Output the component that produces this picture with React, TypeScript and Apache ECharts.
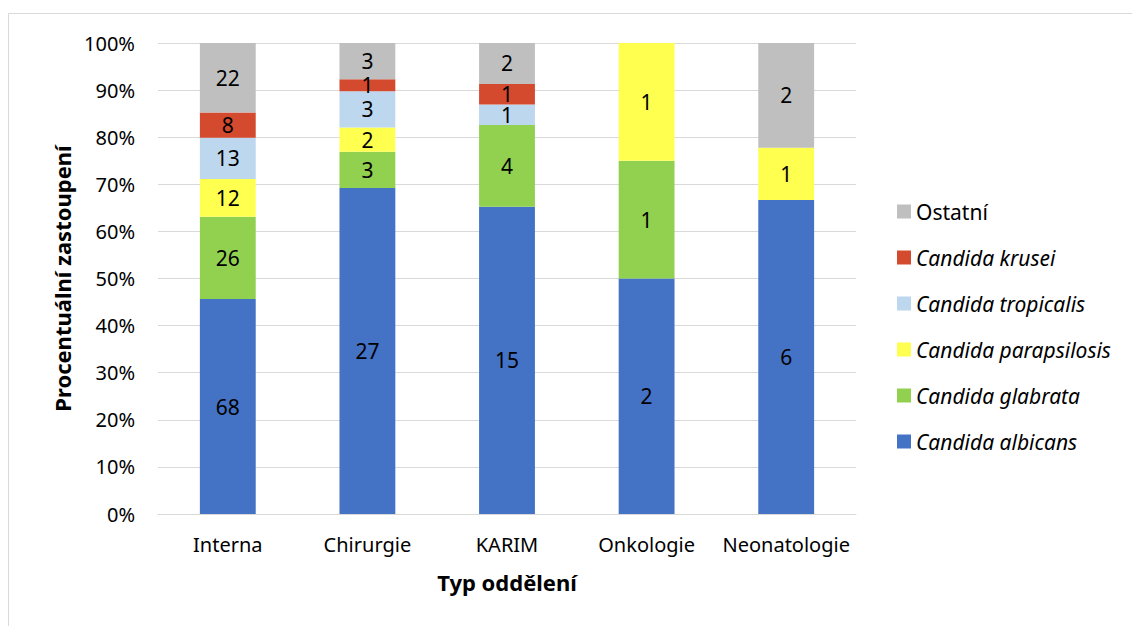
import React, { useEffect, useRef } from "react";
import * as echarts from "echarts";

// Hospital departments
const departments = ["Interna", "Chirurgie", "KARIM", "Onkologie", "Neonatologie"];

// Isolate counts per department
const albicans = [68, 27, 15, 2, 6];
const glabrata = [26, 3, 4, 1, 0];
const parapsilosis = [12, 2, 0, 1, 1];
const tropicalis = [13, 3, 1, 0, 0];
const krusei = [8, 1, 1, 0, 0];
const ostatni = [22, 3, 2, 0, 2];

const speciesNames = [
  "Candida albicans",
  "Candida glabrata",
  "Candida parapsilosis",
  "Candida tropicalis",
  "Candida krusei",
  "Ostatní",
];
const speciesCounts = [albicans, glabrata, parapsilosis, tropicalis, krusei, ostatni];
const speciesColors = ["#4472C4", "#92D050", "#FFFF50", "#BDD7EE", "#D44A2F", "#BFBFBF"];

const FONT = "'Noto Sans', sans-serif";

export default function App() {
  const ref = useRef<HTMLDivElement>(null);

  useEffect(() => {
    if (!ref.current) return;
    const chart = echarts.init(ref.current, undefined, { renderer: "svg" });

    const totals = departments.map((_, i) =>
      speciesCounts.reduce((s, arr) => s + arr[i], 0)
    );

    const series = speciesNames.map((name, k) => ({
      name,
      type: "bar",
      stack: "total",
      barWidth: "40%",
      itemStyle: { color: speciesColors[k] },
      label: {
        show: true,
        position: "inside",
        color: "#000",
        fontFamily: FONT,
        fontSize: 21,
        formatter: (p: any) => (p.data.count > 0 ? String(p.data.count) : ""),
      },
      data: speciesCounts[k].map((c, i) => ({
        value: (c / totals[i]) * 100,
        count: c,
      })),
    }));

    chart.setOption({
      animation: false,
      textStyle: { fontFamily: FONT },
      grid: { left: 158, right: 276, top: 43, bottom: 112, containLabel: false },
      graphic: [
        {
          type: "rect",
          shape: { x: 8.5, y: 13.5, width: 1200, height: 700 },
          style: { fill: "none", stroke: "#D9D9D9", lineWidth: 1 },
          silent: true,
        },
      ],
      legend: {
        orient: "vertical",
        left: 897,
        top: 201,
        padding: 0,
        itemWidth: 14,
        itemHeight: 14,
        itemGap: 25,
        icon: "rect",
        textStyle: { fontFamily: FONT, fontSize: 21, color: "#000", lineHeight: 20 },
        data: speciesNames
          .slice()
          .reverse()
          .map((n) => ({
            name: n,
            textStyle: { fontStyle: n === "Ostatní" ? "normal" : "italic" },
          })),
      },
      xAxis: {
        type: "category",
        data: departments,
        name: "Typ oddělení",
        nameLocation: "middle",
        nameGap: 57,
        nameTextStyle: { fontFamily: FONT, fontSize: 22, fontWeight: "bold", color: "#000" },
        axisLine: { lineStyle: { color: "#D9D9D9", width: 1 } },
        axisTick: { show: false },
        axisLabel: { fontFamily: FONT, fontSize: 20, color: "#000", margin: 20, interval: 0 },
      },
      yAxis: {
        type: "value",
        min: 0,
        max: 100,
        interval: 10,
        name: "Procentuální zastoupení",
        nameLocation: "middle",
        nameRotate: 90,
        nameGap: 85,
        nameTextStyle: { fontFamily: FONT, fontSize: 22, fontWeight: "bold", color: "#000" },
        axisLine: { show: false },
        axisTick: { show: false },
        splitLine: { lineStyle: { color: "#D9D9D9", width: 1 } },
        axisLabel: {
          fontFamily: FONT,
          fontSize: 20,
          color: "#000",
          margin: 23,
          formatter: "{value}%",
        },
      },
      series,
    });

    return () => chart.dispose();
  }, []);

  return (
    <div
      ref={ref}
      style={{
        position: "fixed",
        left: 0,
        top: 0,
        width: 1132,
        height: 626,
        background: "#fff",
      }}
    />
  );
}
